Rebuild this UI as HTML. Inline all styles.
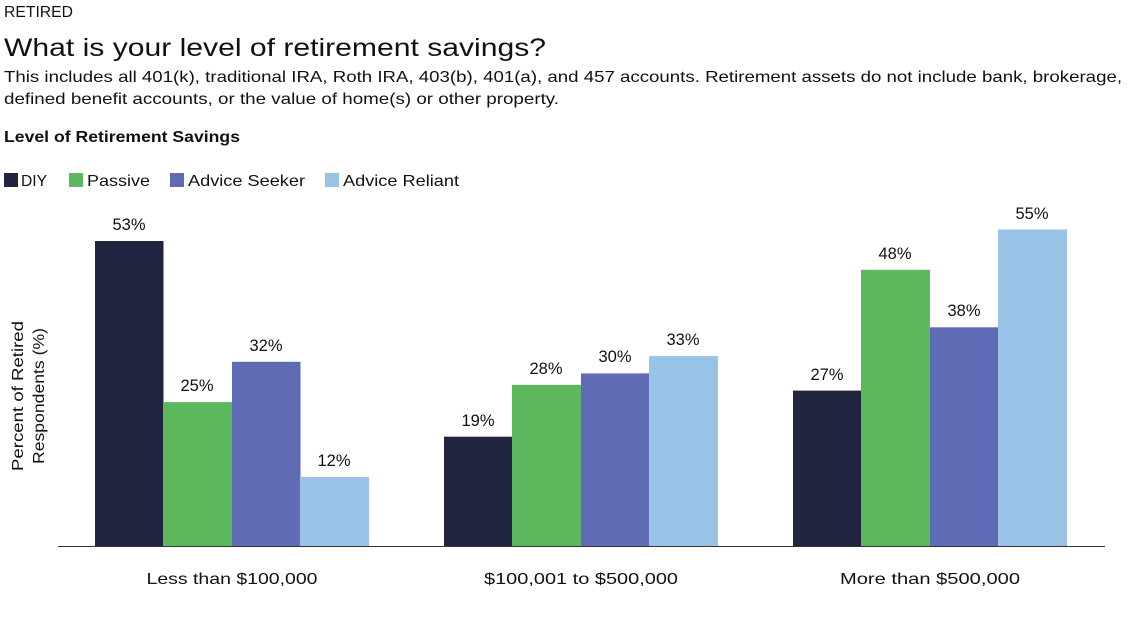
<!DOCTYPE html>
<html><head><style>
body{margin:0;background:#fff;font-family:"Liberation Sans",sans-serif;color:#111;}
</style></head><body>
<svg width="1135" height="631" xmlns="http://www.w3.org/2000/svg" font-family="Liberation Sans, sans-serif" fill="#111">
<text x="4" y="17" font-size="16" textLength="69" lengthAdjust="spacingAndGlyphs">RETIRED</text>
<text x="4" y="56" font-size="25" textLength="542" lengthAdjust="spacingAndGlyphs">What is your level of retirement savings?</text>
<text x="4" y="82" font-size="16" textLength="1118" lengthAdjust="spacingAndGlyphs">This includes all 401(k), traditional IRA, Roth IRA, 403(b), 401(a), and 457 accounts. Retirement assets do not include bank, brokerage,</text>
<text x="4" y="104" font-size="16" textLength="555" lengthAdjust="spacingAndGlyphs">defined benefit accounts, or the value of home(s) or other property.</text>
<text x="4" y="142" font-size="16" font-weight="bold" textLength="236" lengthAdjust="spacingAndGlyphs">Level of Retirement Savings</text>
<rect x="4" y="173" width="14" height="14" fill="#21253f"/><text x="21" y="186" font-size="16" textLength="26" lengthAdjust="spacingAndGlyphs">DIY</text>
<rect x="69" y="173" width="14" height="14" fill="#5cb85c"/><text x="87" y="186" font-size="16" textLength="63" lengthAdjust="spacingAndGlyphs">Passive</text>
<rect x="170" y="173" width="14" height="14" fill="#5f6bb5"/><text x="188" y="186" font-size="16" textLength="117" lengthAdjust="spacingAndGlyphs">Advice Seeker</text>
<rect x="325" y="173" width="14" height="14" fill="#98c3e6"/><text x="343" y="186" font-size="16" textLength="116" lengthAdjust="spacingAndGlyphs">Advice Reliant</text>
<text transform="translate(23,396) rotate(-90)" font-size="16" text-anchor="middle" textLength="150" lengthAdjust="spacingAndGlyphs">Percent of Retired</text>
<text transform="translate(44,396) rotate(-90)" font-size="16" text-anchor="middle" textLength="136" lengthAdjust="spacingAndGlyphs">Respondents (%)</text>
<g>
<rect x="95" y="241" width="68.5" height="305" fill="#21253f"/>
<rect x="163" y="402.1" width="69" height="143.9" fill="#5cb85c"/>
<rect x="232" y="361.8" width="68.5" height="184.2" fill="#5f6bb5"/>
<rect x="300" y="477" width="69" height="69" fill="#98c3e6"/>
<rect x="444" y="436.7" width="68.5" height="109.3" fill="#21253f"/>
<rect x="512" y="384.9" width="69" height="161.1" fill="#5cb85c"/>
<rect x="581" y="373.4" width="68.5" height="172.6" fill="#5f6bb5"/>
<rect x="649" y="356.1" width="69" height="189.9" fill="#98c3e6"/>
<rect x="793" y="390.6" width="68.5" height="155.4" fill="#21253f"/>
<rect x="861" y="269.8" width="69" height="276.2" fill="#5cb85c"/>
<rect x="930" y="327.3" width="68.5" height="218.7" fill="#5f6bb5"/>
<rect x="998" y="229.5" width="69" height="316.5" fill="#98c3e6"/>
</g>
<g font-size="16.5" text-anchor="middle">
<text x="129" y="230">53%</text><text x="197" y="391">25%</text><text x="266" y="351">32%</text><text x="334" y="466">12%</text>
<text x="478" y="426">19%</text><text x="546" y="374">28%</text><text x="615" y="362">30%</text><text x="683" y="345">33%</text>
<text x="827" y="380">27%</text><text x="895" y="259">48%</text><text x="964" y="316">38%</text><text x="1032" y="219">55%</text>
</g>
<line x1="58" y1="546.5" x2="1105" y2="546.5" stroke="#333" stroke-width="1"/>
<g font-size="16" text-anchor="middle">
<text x="232" y="584" textLength="171" lengthAdjust="spacingAndGlyphs">Less than $100,000</text>
<text x="581" y="584" textLength="194" lengthAdjust="spacingAndGlyphs">$100,001 to $500,000</text>
<text x="930" y="584" textLength="180" lengthAdjust="spacingAndGlyphs">More than $500,000</text>
</g>
</svg>
</body></html>
